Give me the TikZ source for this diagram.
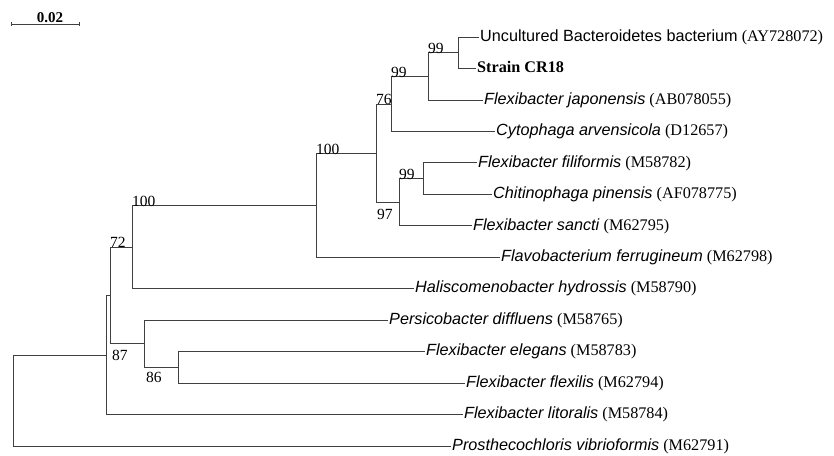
\documentclass[tikz,border=0pt]{standalone}
\usepackage{fontspec}
\setmainfont{Liberation Serif}
\setsansfont{Liberation Sans}
\usepackage{tikz}
\usetikzlibrary{positioning,calc}
\newcommand{\species}[2]{\textsf{\textit{#1}} #2}

\begin{document}
\begin{tikzpicture}[
  x=1pt,y=-1pt,
  font=\fontsize{16.2}{19}\selectfont,
  taxon/.style={anchor=west,inner xsep=1pt,inner ysep=0pt,
                text height=8.5pt,text depth=0pt},
  boot/.style={anchor=base west,inner sep=0pt,font=\fontsize{15.5}{18}\selectfont},
  bootlow/.style={anchor=north west,inner sep=0pt,font=\fontsize{15.5}{18}\selectfont},
  branch/.style={line width=0.8pt,black!75}
]
\useasboundingbox (0,0) rectangle (834,455);

% scale bar
\coordinate (sbl) at (11,24);
\coordinate (sbr) at (79,24);
\draw[branch] (sbl) -- (sbr);
\draw[branch] ($(sbl)+(0,-2)$) -- ($(sbl)+(0,2)$);
\draw[branch] ($(sbr)+(0,-2)$) -- ($(sbr)+(0,2)$);
\node[anchor=base,inner sep=0pt,font=\fontsize{15}{18}\selectfont\bfseries] (sblabel) at (50,22.5) {0.02};

% taxa
\node[taxon] (unc)   at (479,37)    {\textsf{Uncultured Bacteroidetes bacterium} (AY728072)};
\node[taxon] (cr18)  at (476,68.5)  {\textbf{Strain CR18}};
\node[taxon] (fjap)  at (483,99.9)  {\species{Flexibacter japonensis}{(AB078055)}};
\node[taxon] (carv)  at (495,131.4) {\species{Cytophaga arvensicola}{(D12657)}};
\node[taxon] (ffil)  at (477,162.8) {\species{Flexibacter filiformis}{(M58782)}};
\node[taxon] (cpin)  at (492,194.3) {\species{Chitinophaga pinensis}{(AF078775)}};
\node[taxon] (fsan)  at (472,225.8) {\species{Flexibacter sancti}{(M62795)}};
\node[taxon] (ffer)  at (500,257.2) {\species{Flavobacterium ferrugineum}{(M62798)}};
\node[taxon] (hhyd)  at (414,288.7) {\species{Haliscomenobacter hydrossis}{(M58790)}};
\node[taxon] (pdif)  at (388,320.1) {\species{Persicobacter diffluens}{(M58765)}};
\node[taxon] (fele)  at (425,351.6) {\species{Flexibacter elegans}{(M58783)}};
\node[taxon] (fflx)  at (465,383.1) {\species{Flexibacter flexilis}{(M62794)}};
\node[taxon] (flit)  at (463,414.5) {\species{Flexibacter litoralis}{(M58784)}};
\node[taxon] (pvib)  at (451,446)   {\species{Prosthecochloris vibrioformis}{(M62791)}};

% internal nodes
\coordinate (n1)   at (458,52.7);
\coordinate (n2)   at (428,76.3);
\coordinate (n3)   at (391,103.9);
\coordinate (n6)   at (423,178.6);
\coordinate (n5)   at (399,202.2);
\coordinate (n4)   at (376,153.0);
\coordinate (n7)   at (316,205.1);
\coordinate (n8)   at (132,246.9);
\coordinate (n12)  at (178,367.3);
\coordinate (n11)  at (144,343.7);
\coordinate (n9)   at (110,295.3);
\coordinate (n10)  at (106,354.9);
\coordinate (root) at (13,354.9);

\draw[branch] (n1) |- (unc.west);
\draw[branch] (n1) |- (cr18.west);
\draw[branch] (n2) |- (n1);
\draw[branch] (n2) |- (fjap.west);
\draw[branch] (n3) |- (n2);
\draw[branch] (n3) |- (carv.west);
\draw[branch] (n6) |- (ffil.west);
\draw[branch] (n6) |- (cpin.west);
\draw[branch] (n5) |- (n6);
\draw[branch] (n5) |- (fsan.west);
\draw[branch] (n4) |- (n3);
\draw[branch] (n4) |- (n5);
\draw[branch] (n7) |- (n4);
\draw[branch] (n7) |- (ffer.west);
\draw[branch] (n8) |- (n7);
\draw[branch] (n8) |- (hhyd.west);
\draw[branch] (n12) |- (fele.west);
\draw[branch] (n12) |- (fflx.west);
\draw[branch] (n11) |- (pdif.west);
\draw[branch] (n11) |- (n12);
\draw[branch] (n9) |- (n8);
\draw[branch] (n9) |- (n11);
\draw[branch] (n10) |- (n9);
\draw[branch] (n10) |- (flit.west);
\draw[branch] (root) -- (n10);
\draw[branch] (root) |- (pvib.west);

% bootstrap values
\node[boot] (bs1) at (428,53.7)  {99};
\node[boot] (bs2) at (391,77.3)  {99};
\node[boot] (bs3) at (376,104.9) {76};
\node[boot] (bs4) at (316,154.5) {100};
\node[boot] (bs5) at (399,179.6) {99};
\node[bootlow] (bs6) at (377,209) {97};
\node[boot] (bs7) at (132,206.1) {100};
\node[boot] (bs8) at (110,247.9) {72};
\node[bootlow] (bs9) at (112,350) {87};
\node[bootlow] (bs10) at (146,372) {86};
\end{tikzpicture}
\end{document}
